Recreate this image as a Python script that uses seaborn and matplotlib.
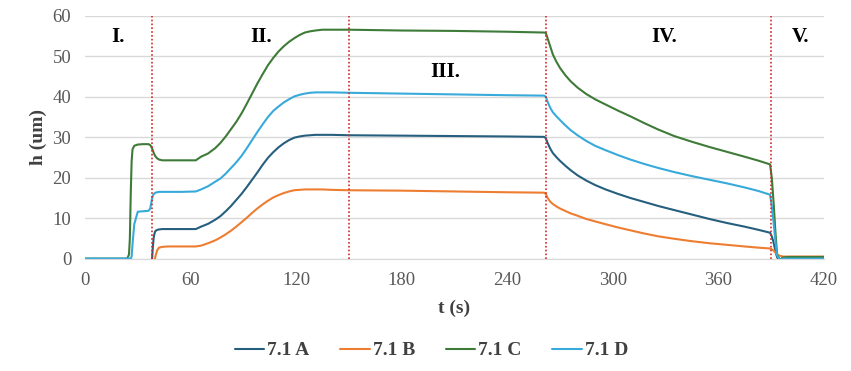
import numpy as np
import pandas as pd
import matplotlib
matplotlib.use("Agg")
import matplotlib.pyplot as plt
import seaborn as sns

# time axis (s)
t = [0, 24, 25, 25.5, 26, 26.5, 27, 28, 30, 33, 36, 37, 38, 38.5, 39, 39.5, 40, 41, 42, 44, 47, 55,
     63, 66, 70, 74, 77, 80, 83, 86, 89, 92, 95, 98, 101, 104, 107, 110, 113, 116, 119, 122, 125,
     128, 131, 135, 140, 150, 180, 210, 240,
     261, 262, 263, 264.5, 266, 268, 270, 273, 276, 280, 285, 290, 296, 303, 310, 318, 326, 335,
     345, 355, 365, 375, 383, 389.5, 390.5, 391.5, 392.5, 393.5, 395, 397, 400, 420]

nan = np.nan
h_a = [nan, nan, nan, nan, nan, nan, nan, nan, nan, nan, nan, nan, -1, 2.5, 5.0, 6.2, 6.8, 7.1, 7.2, 7.3, 7.3, 7.3,
       7.3, 7.9, 8.6, 9.6, 10.5, 11.7, 13.0, 14.5, 16.0, 17.7, 19.5, 21.3, 23.2, 24.9, 26.3, 27.5, 28.5, 29.3, 29.9, 30.2, 30.4,
       30.5, 30.6, 30.6, 30.6, 30.5, 30.4, 30.3, 30.2,
       30.1, 29.8, 28.6, 27.2, 26.1, 25.1, 24.2, 23.0, 21.9, 20.6, 19.3, 18.2, 17.1, 16.0, 15.0, 14.0, 13.0, 12.0,
       10.9, 9.8, 8.8, 7.9, 7.1, 6.4, 5.5, 4.0, 2.0, 0.3, -0.3, 0.2, 0.3, 0.3]
h_b = [nan, nan, nan, nan, nan, nan, nan, nan, nan, nan, nan, nan, nan, nan, nan, -1, 0.5, 2.0, 2.7, 2.9, 3.0, 3.0,
       3.0, 3.2, 3.8, 4.5, 5.2, 6.0, 6.9, 7.9, 9.0, 10.1, 11.3, 12.4, 13.4, 14.3, 15.1, 15.7, 16.2, 16.6, 16.9, 17.0, 17.1,
       17.1, 17.1, 17.1, 17.0, 16.9, 16.8, 16.6, 16.4,
       16.3, 16.0, 15.0, 14.1, 13.5, 12.9, 12.4, 11.8, 11.2, 10.6, 9.8, 9.2, 8.5, 7.7, 7.0, 6.2, 5.5, 4.9,
       4.3, 3.8, 3.4, 3.0, 2.7, 2.5, 2.3, 2.0, 1.5, 1.0, 0.7, 0.5, 0.5, 0.5]
h_c = [0, 0, 1, 5, 16, 24, 27, 27.9, 28.2, 28.3, 28.3, 28.1, 27.4, 26.8, 26.2, 25.7, 25.3, 24.8, 24.5, 24.3, 24.3, 24.3,
       24.3, 25.2, 26.0, 27.3, 28.6, 30.2, 32.0, 33.8, 35.9, 38.3, 40.8, 43.3, 45.6, 47.8, 49.6, 51.2, 52.5, 53.6, 54.5, 55.3, 55.9,
       56.2, 56.4, 56.6, 56.6, 56.6, 56.4, 56.3, 56.1,
       55.9, 55.8, 54.5, 52.5, 50.5, 48.7, 47.2, 45.4, 43.9, 42.3, 40.7, 39.4, 38.1, 36.6, 35.2, 33.5, 31.9, 30.3,
       28.9, 27.6, 26.4, 25.2, 24.2, 23.3, 20.0, 14.0, 7.0, 1.0, -0.3, 0.3, 0.4, 0.4]
h_d = [0, 0, 0, 0, 0, 0.5, 3.5, 8.5, 11.6, 11.7, 11.8, 12.3, 14.5, 15.5, 15.9, 16.1, 16.3, 16.4, 16.5, 16.5, 16.5, 16.5,
       16.6, 17.1, 17.9, 19.0, 19.8, 21.0, 22.4, 23.8, 25.4, 27.3, 29.3, 31.3, 33.2, 35.0, 36.5, 37.6, 38.6, 39.4, 40.1, 40.5, 40.8,
       41.0, 41.1, 41.1, 41.1, 41.0, 40.8, 40.6, 40.4,
       40.3, 40.0, 38.8, 37.3, 36.2, 35.2, 34.3, 33.0, 31.8, 30.5, 29.1, 27.9, 26.8, 25.6, 24.5, 23.4, 22.4, 21.4,
       20.4, 19.5, 18.6, 17.6, 16.7, 15.8, 13.0, 9.0, 4.5, 0.8, -0.3, 0.0, 0.0, 0.0]

series = ["7.1 A", "7.1 B", "7.1 C", "7.1 D"]
colors = ["#265F7E", "#ED7D31", "#3F7B38", "#38AADA"]

phase_bounds = [38, 150, 262, 390]
phase_labels = ["I.", "II.", "III.", "IV.", "V."]
phase_x = [19, 100, 205, 329, 407]
phase_y = [54.8, 54.8, 46.2, 54.8, 54.8]

df = pd.DataFrame({"t": t, "7.1 A": h_a, "7.1 B": h_b, "7.1 C": h_c, "7.1 D": h_d})
long = df.melt(id_vars="t", var_name="series", value_name="h").dropna()

sns.set_style("white")
plt.rcParams["font.family"] = ["Liberation Serif", "DejaVu Serif"]

fig = plt.figure(figsize=(8.51, 3.71), dpi=100)
ax = fig.add_axes([0.0999, 0.303, 0.868, 0.654])

ax.grid(axis="y", color="#d9d9d9", lw=1)
ax.set_axisbelow(True)

sns.lineplot(data=long, x="t", y="h", hue="series", hue_order=series,
             palette=colors, estimator=None, sort=True, lw=1.5, ax=ax, legend=False)
for ln in ax.get_lines():
    ln.set_solid_joinstyle("round")

for xb in phase_bounds:
    ax.axvline(xb, color="#D42A2A", ls=(0, (1, 1.3)), lw=1.2, zorder=3)
for lab, x, y in zip(phase_labels, phase_x, phase_y):
    ax.text(x, y, lab, ha="center", va="center", fontsize=15, fontweight="bold", color="black")

ax.set_xlim(0, 420)
ax.set_ylim(0, 60)
ax.set_xticks(range(0, 421, 60))
ax.set_yticks(range(0, 61, 10))
ax.tick_params(axis="both", labelsize=13.5, labelcolor="#595959")
ax.tick_params(axis="x", direction="inout", length=7, color="#d9d9d9", width=1, pad=6)
ax.tick_params(axis="y", length=0, pad=10)
for s in ["top", "right", "left"]:
    ax.spines[s].set_visible(False)
ax.spines["bottom"].set_color("#d9d9d9")

ax.set_xlabel("t (s)", fontsize=14, fontweight="bold", color="#404040", labelpad=8)
ax.set_ylabel("h (um)", fontsize=14, fontweight="bold", color="#404040", labelpad=4)

handles = [plt.Line2D([], [], color=c, lw=1.5) for c in colors]
leg = fig.legend(handles, series, loc="center", bbox_to_anchor=(0.507, 0.055), ncol=4,
                 frameon=False, handlelength=1.5, handletextpad=0.15, columnspacing=1.6,
                 prop={"size": 14, "weight": "bold"})
for txt in leg.get_texts():
    txt.set_color("#404040")

fig.savefig("out.png", dpi=100)
